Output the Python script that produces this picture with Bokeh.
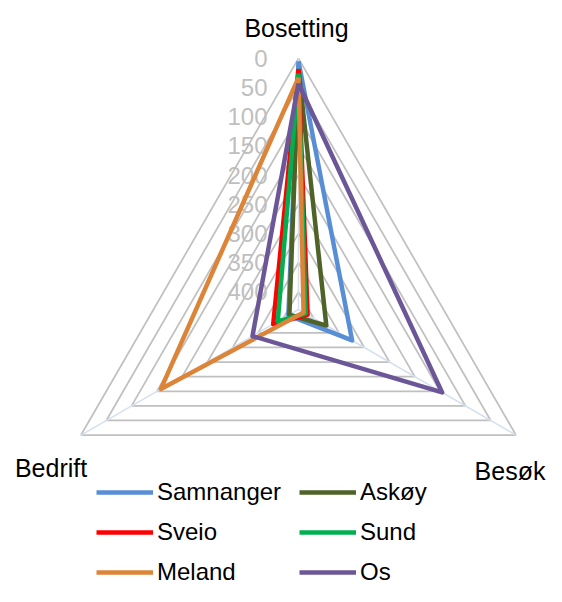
import numpy as np
from bokeh.plotting import figure
from bokeh.models import Range1d, ColumnDataSource
from bokeh.embed import file_html
from bokeh.resources import INLINE
from bokeh.core.properties import value

# ---------------- data ----------------
categories = ["Bosetting", "Besøk", "Bedrift"]
series_names = ["Samnanger", "Askøy", "Sveio", "Sund", "Meland", "Os"]
samnanger = [5, 324, 410]
askoy = [18, 375, 412]
sveio = [19, 412, 380]
sund = [26, 416, 389]
meland = [33, 420, 158]
os_vals = [43, 146, 339]
tick_values = [0, 50, 100, 150, 200, 250, 300, 350, 400]
axis_max = 430  # value at the centre (reversed radial axis)

series_values = [samnanger, askoy, sveio, sund, meland, os_vals]
colors = ["#588ED6", "#4F6228", "#FF0000", "#00B050", "#DC8438", "#6B5797"]

# ---------------- geometry ----------------
W, H = 546, 586
k = 0.584               # pixels per value unit
cx_px, cy_px = 298, 309  # centre in canvas pixels (from top-left)
angles = np.deg2rad([90, -30, 210])


def to_xy(vals):
    r = axis_max - np.asarray(vals, dtype=float)
    return r * np.cos(angles), r * np.sin(angles)


p = figure(width=W, height=H, output_backend="svg", toolbar_location=None,
           x_range=Range1d(-cx_px / k, (W - cx_px) / k),
           y_range=Range1d(-(H - cy_px) / k, cy_px / k),
           x_axis_type=None, y_axis_type=None, min_border=0,
           outline_line_color=None, background_fill_color="white",
           border_fill_color="white")
p.grid.visible = False

FONT = value("Liberation Sans")

# rings
ring_xs, ring_ys = [], []
for v in tick_values:
    x, y = to_xy([v, v, v])
    ring_xs.append(list(x))
    ring_ys.append(list(y))
p.patches(ring_xs, ring_ys, fill_color=None, line_color="#C0C0C0", line_width=1.75)

# spokes
ox, oy = to_xy([0, 0, 0])
p.segment(x0=[0, 0, 0], y0=[0, 0, 0], x1=list(ox), y1=list(oy),
          line_color="#D5E0EF", line_width=1.5)

# tick labels along the first spoke
tick_src = ColumnDataSource(dict(
    x=[0.0] * len(tick_values),
    y=[axis_max - v for v in tick_values],
    t=[str(v) for v in tick_values]))
p.text(x="x", y="y", text="t", source=tick_src, text_align="right",
       text_baseline="middle", x_offset=-31, text_color="#BFBFBF",
       text_font=FONT, text_font_size="24px")

# series
for name, vals, col in zip(series_names, series_values, colors):
    x, y = to_xy(vals)
    xs = list(x) + [x[0]]
    ys = list(y) + [y[0]]
    p.line(xs, ys, line_color=col, line_width=4.5, line_join="round",
           legend_label=name)

# category labels
cx_, cy_ = to_xy([0, 0, 0])
cat_src = ColumnDataSource(dict(x=list(cx_), y=list(cy_), t=categories,
                                xo=[-2, -6, -30], yo=[-30, 36, 33]))
p.text(x="x", y="y", text="t", source=cat_src, x_offset="xo", y_offset="yo",
       text_align="center", text_baseline="middle", text_color="black",
       text_font=FONT, text_font_size="25px")

lg = p.legend[0]
items = list(lg.items)
# legend fills column-wise; reorder so rows read Samnanger/Askøy, Sveio/Sund, Meland/Os
lg.items = [items[i] for i in (0, 2, 4, 1, 3, 5)]
lg.ncols = 2
lg.location = (96, 0)
lg.border_line_color = None
lg.background_fill_alpha = 0
lg.padding = 0
lg.margin = 0
lg.spacing = 12
lg.glyph_width = 57
lg.glyph_height = 24
lg.label_height = 24
lg.label_width = 130
lg.label_standoff = 4
lg.label_text_font = "Liberation Sans"
lg.label_text_font_size = "24px"
lg.label_text_color = "black"

open("out.html", "w").write(file_html(p, INLINE))
